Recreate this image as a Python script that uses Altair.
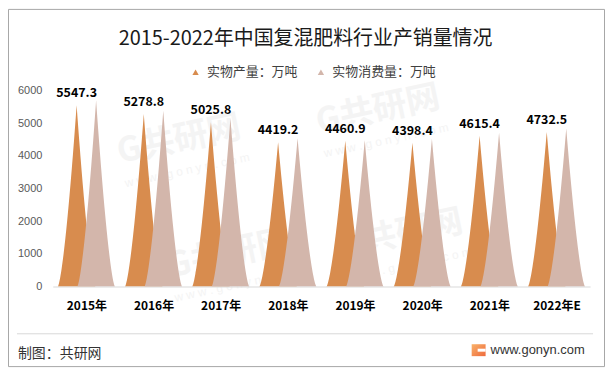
import json
import altair as alt
import pandas as pd

# ---------------- data ----------------
years = ["2015年", "2016年", "2017年", "2018年", "2019年", "2020年", "2021年", "2022年E"]
production = [5547.3, 5278.8, 5025.8, 4419.2, 4460.9, 4398.4, 4615.4, 4732.5]
consumption = [5700, 5380, 5150, 4540, 4480, 4520, 4710, 4840]
series_names = ["实物产量：万吨", "实物消费量：万吨"]
colors = ["#D88C4E", "#D3B6AB"]

rows = []
for i, y in enumerate(years):
    rows.append({"idx": i, "year": y, "series": series_names[0], "value": production[i]})
    rows.append({"idx": i, "year": y, "series": series_names[1], "value": consumption[i]})
df = pd.DataFrame(rows)

# ---------------- style ----------------
W, H = 540, 197
HALF = 0.28   # half base width of a spike (in category units)
OFF = 0.145   # offset of each spike from the category centre
EXP = 1.45    # concavity of the spike sides
CJK = "Noto Sans CJK SC"

# faint background watermark placements (pixel offsets from plot origin)
wm_x = [127, 327, 177, 350]
wm_y = [50, 20, 165, 145]

x_scale = alt.Scale(domain=[-0.5, len(years) - 0.5], nice=False, zero=False)
y_scale = alt.Scale(domain=[0, 6000], nice=False)
label_expr = json.dumps(years, ensure_ascii=False) + "[datum.value]"

x_axis = alt.Axis(values=list(range(len(years))), labelExpr=label_expr, title=None,
                  ticks=False, grid=False, domainColor="#D9D9D9", labelPadding=14,
                  labelFont=CJK, labelFontSize=12, labelFontWeight="bold",
                  labelColor="#000000", zindex=1)
y_axis = alt.Axis(values=[0, 1000, 2000, 3000, 4000, 5000, 6000], title=None, format="d",
                  ticks=False, grid=False, domain=False, labelPadding=11,
                  labelFont="Liberation Sans", labelFontSize=11, labelColor="#595959",
                  zindex=1)
color_enc = alt.Color(
    "series:N",
    scale=alt.Scale(domain=series_names, range=colors),
    legend=alt.Legend(orient="none", legendX=137, legendY=-25, direction="horizontal",
                      title=None, symbolType="triangle-up", symbolSize=40,
                      symbolStrokeWidth=0, symbolOpacity=1,
                      labelFont=CJK, labelFontSize=13, labelColor="#404040",
                      columnPadding=16, padding=0, labelOffset=5, zindex=1),
)


def spikes(k):
    sign = -1 if k == 0 else 1
    return (
        alt.Chart(df)
        .transform_filter(alt.datum.series == series_names[k])
        .transform_calculate(t="sequence(-1, 1.0001, 0.02)")
        .transform_flatten(["t"])
        .transform_calculate(
            xp=f"datum.idx + ({sign * OFF}) + datum.t * {HALF}",
            yp=f"datum.value * pow(max(0, 1 - abs(datum.t)), {EXP})",
        )
        .mark_area(opacity=1)
        .encode(
            x=alt.X("xp:Q", scale=x_scale, axis=x_axis),
            y=alt.Y("yp:Q", scale=y_scale, axis=y_axis, stack=None),
            color=color_enc,
            detail="year:N",
        )
    )


value_labels = (
    alt.Chart(df)
    .transform_filter(alt.datum.series == series_names[0])
    .transform_calculate(xp=f"datum.idx - {OFF}")
    .mark_text(font=CJK, fontSize=12.5, fontWeight="bold", color="#000000",
               baseline="alphabetic", dy=-8)
    .encode(
        x=alt.X("xp:Q", scale=x_scale, axis=x_axis),
        y=alt.Y("value:Q", scale=y_scale, axis=y_axis),
        text=alt.Text("value:Q", format=".1f"),
    )
)

one = alt.Data(values=[{"a": 1}])

# watermark layers
wm_layers = []
for wx, wy in zip(wm_x, wm_y):
    wm_layers.append(
        alt.Chart(one).mark_text(text="G共研网", font=CJK, fontSize=34, fontWeight="bold",
                                 color="#F4F4F4", angle=348, align="center",
                                 baseline="middle").encode(x=alt.value(wx), y=alt.value(wy))
    )
    wm_layers.append(
        alt.Chart(one).mark_text(text="w w w . g o n y n . c o m", font="Liberation Sans",
                                 fontSize=12, color="#F4F4F4", angle=348, align="center",
                                 baseline="middle").encode(x=alt.value(wx + 8), y=alt.value(wy + 30))
    )

border = alt.Chart(one).mark_rect(fill="transparent", stroke="#A6A6A6", strokeWidth=1).encode(
    x=alt.value(-44.5), x2=alt.value(554.5), y=alt.value(-81.5), y2=alt.value(277.5))

title = alt.Chart(one).mark_text(text="2015-2022年中国复混肥料行业产销量情况", font=CJK,
                                 fontSize=20, color="#1A1A1A", align="center",
                                 baseline="middle").encode(
    x=alt.value(254), y=alt.value(-52))

separator = alt.Chart(one).mark_rule(color="#D9D9D9", strokeWidth=1).encode(
    x=alt.value(-36), x2=alt.value(543), y=alt.value(244.5))

footer_left = alt.Chart(one).mark_text(text="制图：共研网", font=CJK, fontSize=14,
                                       color="#333333", align="left",
                                       baseline="middle").encode(
    x=alt.value(-35), y=alt.value(265))

footer_right = alt.Chart(one).mark_text(text="www.gonyn.com", font="Liberation Sans",
                                        fontSize=13, color="#333333", align="left",
                                        baseline="middle").encode(
    x=alt.value(440), y=alt.value(261))

logo = alt.Chart(one).mark_rect(
    fill=alt.LinearGradient(gradient="linear", x1=0, y1=0, x2=1, y2=1,
                            stops=[alt.GradientStop(color="#F9B26A", offset=0),
                                   alt.GradientStop(color="#EE6A3C", offset=1)])
).encode(x=alt.value(421), x2=alt.value(435), y=alt.value(255), y2=alt.value(267))

logo_mark = alt.Chart(one).mark_rect(fill="#FFFFFF").encode(
    x=alt.value(427), x2=alt.value(435), y=alt.value(259.5), y2=alt.value(262.5))

chart = alt.layer(
    *wm_layers,
    border, title, separator, footer_left, footer_right, logo, logo_mark,
    spikes(0), spikes(1), value_labels,
).properties(
    width=W, height=H,
    autosize=alt.AutoSizeParams(type="none"),
    padding={"left": 45, "top": 82, "right": 15, "bottom": 81},
    background="#FFFFFF",
).configure_view(stroke=None)

chart.save("out.html", embed_options={"renderer": "svg", "actions": False})
